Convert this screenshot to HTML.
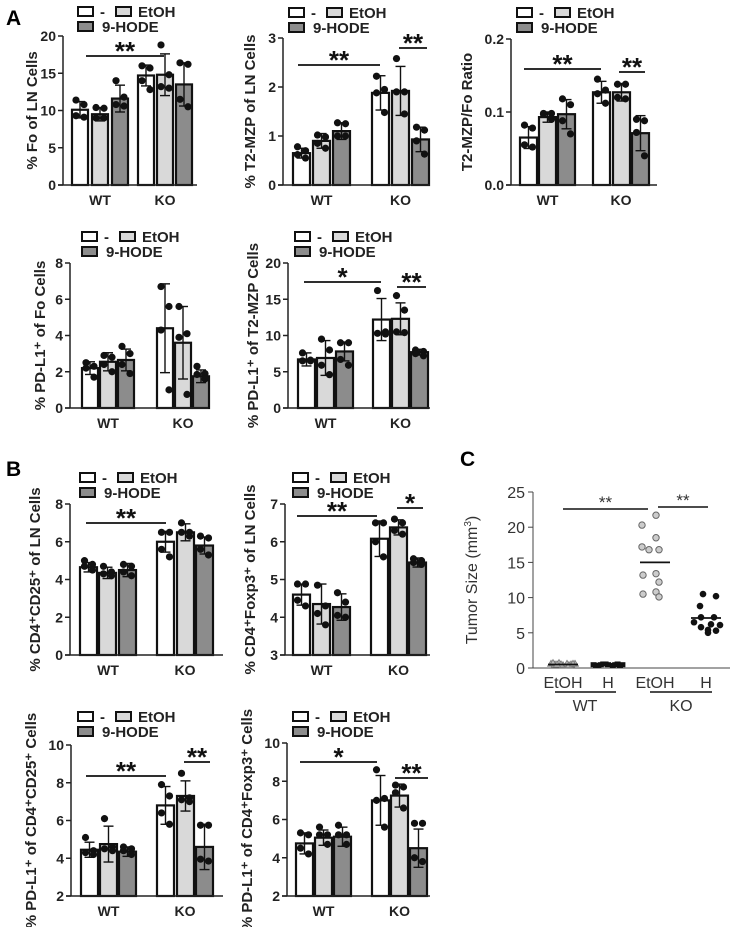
<!DOCTYPE html>
<html><head><meta charset="utf-8">
<style>
html,body{margin:0;padding:0;background:#fff;}
svg{display:block;font-family:"Liberation Sans",Arial,sans-serif;}
</style></head>
<body>
<svg id="fig" width="743" height="927" viewBox="0 0 743 927" xmlns="http://www.w3.org/2000/svg">
<text x="6" y="25" font-size="21" font-weight="bold">A</text>
<text x="6" y="476" font-size="21" font-weight="bold">B</text>
<text x="460" y="466" font-size="21" font-weight="bold">C</text>
</svg>
<script>
// ---- data ----
const groups=["WT","KO"];
const treatments=["-","EtOH","9-HODE"];
const a1Mean=[10.1,9.5,11.6,14.7,14.8,13.5];
const a1Err=[1.1,0.9,1.8,1.4,2.8,2.9];
const a1Pts=[[11.4,10.8,9.3,9.1],[10.4,10.3,9.0,9.0],[14.0,11.8,10.8,10.6],[16.0,15.7,14.0,12.8],[18.8,14.8,13.2,13.0],[16.4,16.2,11.5,10.5]];
const a1Ticks=[0,5,10,15,20];
const a2Mean=[0.65,0.9,1.1,1.88,1.92,0.93];
const a2Err=[0.1,0.15,0.17,0.35,0.5,0.25];
const a2Pts=[[0.78,0.7,0.62,0.55],[1.02,0.98,0.85,0.75],[1.27,1.25,1.0,1.0],[2.22,1.95,1.88,1.48],[2.58,1.9,1.9,1.45],[1.18,1.12,0.9,0.63]];
const a2Ticks=[0,1,2,3];
const a3Mean=[0.065,0.093,0.097,0.127,0.127,0.071];
const a3Err=[0.015,0.007,0.02,0.015,0.012,0.024];
const a3Pts=[[0.082,0.078,0.055,0.052],[0.098,0.098,0.097,0.09],[0.118,0.11,0.088,0.07],[0.145,0.13,0.125,0.112],[0.138,0.138,0.12,0.118],[0.09,0.088,0.072,0.04]];
const a3Ticks=[0,0.1,0.2];
const a4Mean=[2.2,2.55,2.65,4.4,3.6,1.75];
const a4Err=[0.35,0.5,0.6,2.45,2.0,0.35];
const a4Pts=[[2.5,2.3,2.2,1.7],[2.9,2.8,2.4,2.0],[3.4,3.0,2.4,1.9],[6.7,5.6,4.3,1.0],[5.6,4.1,3.9,0.75],[2.3,1.9,1.85,1.6]];
const a4Ticks=[0,2,4,6,8];
const a5Mean=[6.7,6.9,7.8,12.2,12.3,7.7];
const a5Err=[0.9,2.4,1.3,2.9,2.2,0.4];
const a5Pts=[[7.6,6.6,6.5,6.5],[9.5,8.0,5.9,4.6],[9.0,9.0,6.7,5.9],[16.2,10.5,10.3,10.2],[15.5,13.5,10.5,10.4],[8.0,7.8,7.5,7.2]];
const a5Ticks=[0,5,10,15,20];
const b1Mean=[4.65,4.35,4.5,6.0,6.5,5.8];
const b1Err=[0.25,0.3,0.35,0.55,0.45,0.45];
const b1Pts=[[5.0,4.8,4.7,4.5],[4.7,4.4,4.3,4.2],[4.8,4.7,4.4,4.2],[6.5,6.5,5.6,5.2],[7.0,6.5,6.5,6.3],[6.3,6.2,5.6,5.3]];
const b1Ticks=[0,2,4,6,8];
const b2Mean=[4.6,4.35,4.27,6.08,6.38,5.45];
const b2Err=[0.28,0.53,0.35,0.47,0.2,0.12];
const b2Pts=[[4.88,4.88,4.45,4.3],[4.85,4.3,4.1,3.8],[4.65,4.4,4.05,4.0],[6.5,6.5,6.0,5.6],[6.6,6.5,6.3,6.2],[5.55,5.5,5.45,5.4]];
const b2Ticks=[3,4,5,6,7];
const b3Mean=[4.45,4.75,4.35,6.8,7.3,4.6];
const b3Err=[0.4,0.95,0.25,1.0,0.8,1.2];
const b3Pts=[[5.1,4.4,4.3,4.2],[6.1,4.6,4.5,4.4],[4.6,4.5,4.4,4.2],[7.9,7.3,6.4,5.8],[8.5,7.2,7.1,7.0],[5.75,5.75,3.95,3.85]];
const b3Ticks=[2,4,6,8,10];
const b4Mean=[4.75,5.05,5.1,7.0,7.25,4.5];
const b4Err=[0.55,0.4,0.5,1.3,0.6,1.0];
const b4Pts=[[5.3,5.2,4.5,4.2],[5.6,5.2,5.2,4.7],[5.7,5.2,5.2,4.7],[8.6,7.1,7.0,5.6],[7.8,7.7,7.4,6.6],[5.8,5.8,4.0,3.8]];
const b4Ticks=[2,4,6,8,10];
const cCategories=["EtOH","H","EtOH","H"];
const cWtEtoh=[0.6,0.5,0.7,0.4,0.6,0.5,0.6,0.7,0.5,0.4,0.6,0.5];
const cWtH=[0.4,0.3,0.5,0.4,0.3,0.5,0.4,0.3,0.5,0.4,0.3,0.4];
const cKoEtoh=[21.7,20.3,18.5,17.2,16.8,16.8,13.2,13.4,12.2,10.5,10.8,10.1];
const cKoH=[10.5,10.2,8.8,7.2,7.2,6.5,6.1,6.2,5.8,5.3,5.4,5.0];
const cMeans=[0.5,0.4,15.0,7.1];
const cTicks=[0,5,10,15,20,25];

// ---- layout ----
const NS="http://www.w3.org/2000/svg";
const svg=document.getElementById('fig');
function mk(tag,attrs,parent){const e=document.createElementNS(NS,tag);for(const k in attrs)e.setAttribute(k,attrs[k]);(parent||svg).appendChild(e);return e;}
const fills=["#ffffff","#d9d9d9","#8c8c8c"];
const panels=[
 {id:"a1",mean:a1Mean,err:a1Err,pts:a1Pts,ticks:a1Ticks,ax:63,y0:185,yt:36,end:197,bars:[72,92,112,138,157,176],bw:16,title:"% Fo of LN Cells",tx:37,lx:78,ly:7,dec:0,sig:[[86,164,56,"**"]]},
 {id:"a2",mean:a2Mean,err:a2Err,pts:a2Pts,ticks:a2Ticks,ax:283,y0:185,yt:38,end:430,bars:[293,313,333,372,392,412],bw:17,title:"% T2-MZP of LN Cells",tx:255,lx:289,ly:8,dec:0,sig:[[298,380,65,"**"],[399,427,48,"**"]]},
 {id:"a3",mean:a3Mean,err:a3Err,pts:a3Pts,ticks:a3Ticks,ax:511,y0:185,yt:39,end:657,bars:[520,539,558,593,613,632],bw:17,title:"T2-MZP/Fo Ratio",tx:472,lx:517,ly:8,dec:1,sig:[[524,601,69,"**"],[619,645,72,"**"]]},
 {id:"a4",mean:a4Mean,err:a4Err,pts:a4Pts,ticks:a4Ticks,ax:70,y0:408,yt:263,end:208,bars:[82,100,118,157,175,193],bw:16,title:"% PD-L1\u207A of Fo Cells",tx:45,lx:82,ly:232,dec:0,sig:[]},
 {id:"a5",mean:a5Mean,err:a5Err,pts:a5Pts,ticks:a5Ticks,ax:288,y0:408,yt:263,end:430,bars:[298,317,336,373,392,411],bw:17,title:"% PD-L1\u207A of T2-MZP Cells",tx:258,lx:295,ly:232,dec:0,sig:[[304,381,282,"*"],[397,426,287,"**"]]},
 {id:"b1",mean:b1Mean,err:b1Err,pts:b1Pts,ticks:b1Ticks,ax:70,y0:655,yt:504,end:223,bars:[80,99,119,157,177,196],bw:17,title:"% CD4\u207ACD25\u207A of LN Cells",tx:40,lx:80,ly:473,dec:0,sig:[[86,166,523,"**"]]},
 {id:"b2",mean:b2Mean,err:b2Err,pts:b2Pts,ticks:b2Ticks,ax:285,y0:655,yt:504,end:430,bars:[293,313,333,371,390,409],bw:17,title:"% CD4\u207AFoxp3\u207A of LN Cells",tx:255,lx:293,ly:473,dec:0,sig:[[297,377,516,"**"],[397,423,508,"*"]]},
 {id:"b3",mean:b3Mean,err:b3Err,pts:b3Pts,ticks:b3Ticks,ax:71,y0:896,yt:745,end:223,bars:[81,100,119,157,177,196],bw:17,title:"% PD-L1\u207A of CD4\u207ACD25\u207A Cells",tx:36,lx:78,ly:712,dec:0,sig:[[86,166,776,"**"],[184,210,762,"**"]]},
 {id:"b4",mean:b4Mean,err:b4Err,pts:b4Pts,ticks:b4Ticks,ax:287,y0:896,yt:743,end:430,bars:[296,315,334,372,391,410],bw:17,title:"% PD-L1\u207A of CD4\u207AFoxp3\u207A Cells",tx:252,lx:293,ly:712,dec:0,sig:[[300,377,762,"*"],[395,428,778,"**"]]}
];
const dotOff=[-4,4,-4,4];
panels.forEach(p=>{
 const g=mk('g',{});
 
 
 const vmin=p.ticks[0],vmax=p.ticks[p.ticks.length-1];
 const y=v=>p.y0-(v-vmin)*(p.y0-p.yt)/(vmax-vmin);
 p.mean.forEach((m,i)=>{
  const x=p.bars[i],cx=x+p.bw/2;
  const r=mk('rect',{x:x,y:y(m),width:p.bw,height:p.y0-y(m),fill:fills[i%3],stroke:"#111","stroke-width":2.2},g);
  
  
  const e=p.err[i];
  mk('line',{x1:cx,x2:cx,y1:y(m-e),y2:y(m+e),stroke:"#111","stroke-width":1.4},g);
  mk('line',{x1:cx-5,x2:cx+5,y1:y(m+e),y2:y(m+e),stroke:"#111","stroke-width":1.4},g);
  mk('line',{x1:cx-5,x2:cx+5,y1:y(m-e),y2:y(m-e),stroke:"#111","stroke-width":1.4},g);
  p.pts[i].forEach((v,j)=>{
   const c=mk('circle',{cx:cx+dotOff[j],cy:y(v),r:3.6,fill:"#111"},g);
   
   
  });
 });
 const ya=mk('line',{x1:p.ax,x2:p.ax,y1:p.yt,y2:p.y0,stroke:"#222","stroke-width":1.5},g);
 
 
 const xa=mk('line',{x1:p.ax-5,x2:p.end,y1:p.y0,y2:p.y0,stroke:"#222","stroke-width":1.5},g);
 
 
 p.ticks.forEach(t=>{
  mk('line',{x1:p.ax-5,x2:p.ax,y1:y(t),y2:y(t),stroke:"#222","stroke-width":1.5},g);
  const tl=mk('text',{x:p.ax-7,y:y(t)+5,"text-anchor":"end","font-size":14,"font-weight":"bold",fill:"#222"},g);
  tl.textContent=p.dec?t.toFixed(1):String(t);
  
  
 });
 groups.forEach((gn,k)=>{
  const cx=(p.bars[k*3]+p.bars[k*3+2]+p.bw)/2;
  const t=mk('text',{x:cx,y:p.y0+20,"text-anchor":"middle","font-size":14,"font-weight":"bold",fill:"#222"},g);
  t.textContent=gn;
  
  
 });
 const ty=(p.yt+p.y0)/2;
 const tt=mk('text',{x:p.tx,y:ty,"text-anchor":"middle","font-size":15,"font-weight":"bold",fill:"#222",transform:`rotate(-90 ${p.tx} ${ty})`},g);
 tt.textContent=p.title;
 
 
 const lg=mk('g',{},g);
 
 
 const L=[[p.lx,p.ly,0,"-",p.lx+22],[p.lx+38,p.ly,1,"EtOH",p.lx+60],[p.lx,p.ly+15,2,"9-HODE",p.lx+24]];
 L.forEach(l=>{
  mk('rect',{x:l[0],y:l[1],width:15,height:9,fill:fills[l[2]],stroke:"#111","stroke-width":2},lg);
  const t=mk('text',{x:l[4],y:l[1]+10,"font-size":15,"font-weight":"bold",fill:"#222"},lg);
  t.textContent=l[3];
  
  
 });
 p.sig.forEach(s=>{
  mk('line',{x1:s[0],x2:s[1],y1:s[2],y2:s[2],stroke:"#111","stroke-width":1.8},g);
  const t=mk('text',{x:(s[0]+s[1])/2,y:s[2]+4,"text-anchor":"middle","font-size":26,"font-weight":"bold",fill:"#111"},g);
  t.textContent=s[3];
  
  
 });
});

// ---- panel C ----
(function(){
 const g=mk('g',{});
 
 
 const ax=533,y0=668,yt=492,end=730;
 const y=v=>y0-(v-0)*(y0-yt)/25;
 const cx=[563,608,655,706];
 cTicks.forEach(t=>{
  mk('line',{x1:ax-5,x2:ax,y1:y(t),y2:y(t),stroke:"#444","stroke-width":1},g);
  const tl=mk('text',{x:ax-8,y:y(t)+6,"text-anchor":"end","font-size":16,fill:"#333"},g);
  tl.textContent=String(t);
  
  
 });
 const ya=mk('line',{x1:ax,x2:ax,y1:yt,y2:y0,stroke:"#444","stroke-width":1},g);
 
 
 const xa=mk('line',{x1:ax,x2:end,y1:y0,y2:y0,stroke:"#444","stroke-width":1},g);
 
 
 const tt=mk('text',{x:477,y:580,"text-anchor":"middle","font-size":16,fill:"#333",transform:"rotate(-90 477 580)"},g);
 tt.innerHTML='Tumor Size (mm<tspan dy="-6" font-size="10">3</tspan><tspan dy="6">)</tspan>';
 
 
 const jit=[-12,-8,-4,0,4,8,12,-10,-2,6,10,-6];
 cWtEtoh.forEach((v,i)=>{
  const px=cx[0]+jit[i],py=y(v);
  const t=mk('polygon',{points:`${px-3.5},${py+2.5} ${px},${py-3.5} ${px+3.5},${py+2.5}`,fill:"#bbb",stroke:"#777","stroke-width":0.8},g);
  
  
 });
 cWtH.forEach((v,i)=>{
  const c=mk('rect',{x:cx[1]+jit[i]*1.2-3,y:y(v)-3,width:6,height:5,fill:"#111"},g);
  
  
 });
 const koEx=[10,-4,10,-4,3,13,-3,10,13,-3,10,13];
 cKoEtoh.forEach((v,i)=>{
  const c=mk('circle',{cx:cx[2]-6+koEx[i]-3,cy:y(v),r:3.2,fill:"#ccc",stroke:"#666","stroke-width":1},g);
  
  
 });
 const koHx=[-3,10,-6,-5,8,-12,14,5,-5,10,2,2];
 cKoH.forEach((v,i)=>{
  const c=mk('circle',{cx:cx[3]+koHx[i],cy:y(v),r:3.3,fill:"#111"},g);
  
  
 });
 cMeans.forEach((m,i)=>{
  const l=mk('line',{x1:cx[i]-15,x2:cx[i]+15,y1:y(m),y2:y(m),stroke:"#111","stroke-width":1.8},g);
  
  
 });
 cCategories.forEach((c,i)=>{
  const t=mk('text',{x:cx[i],y:688,"text-anchor":"middle","font-size":16,fill:"#333"},g);
  t.textContent=c;
  
  
 });
 [[555,616,"WT",585],[650,712,"KO",681]].forEach(a=>{
  mk('line',{x1:a[0],x2:a[1],y1:692,y2:692,stroke:"#111","stroke-width":1.5},g);
  const t=mk('text',{x:a[3],y:711,"text-anchor":"middle","font-size":16,fill:"#333"},g);
  t.textContent=a[2];
  
  
 });
 [[563,648,509],[658,708,507]].forEach(s=>{
  mk('line',{x1:s[0],x2:s[1],y1:s[2],y2:s[2],stroke:"#111","stroke-width":1.5},g);
  const t=mk('text',{x:(s[0]+s[1])/2,y:s[2]-1,"text-anchor":"middle","font-size":17,fill:"#333"},g);
  t.textContent="**";
  
  
 });
})();
</script>
</body></html>
